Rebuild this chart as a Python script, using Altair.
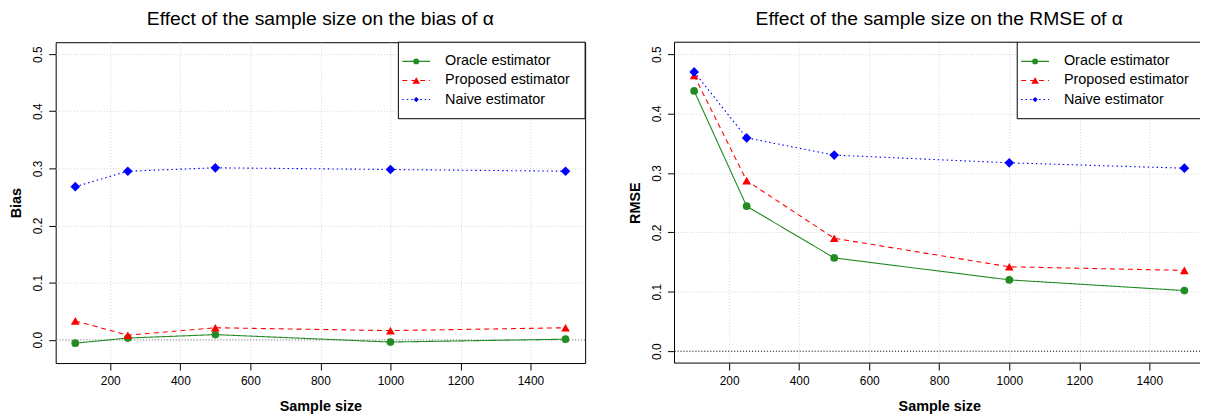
import altair as alt
import pandas as pd

# ---------------- data ----------------
sample_sizes = [100, 250, 500, 1000, 1500]
estimators = ["Oracle estimator", "Proposed estimator", "Naive estimator"]

bias_oracle = [-0.006, 0.003, 0.009, -0.004, 0.001]
bias_proposed = [0.033, 0.008, 0.021, 0.016, 0.021]
bias_naive = [0.268, 0.295, 0.301, 0.298, 0.295]

rmse_oracle = [0.438, 0.244, 0.157, 0.120, 0.102]
rmse_proposed = [0.464, 0.287, 0.190, 0.142, 0.136]
rmse_naive = [0.470, 0.359, 0.330, 0.317, 0.308]

x_ticks = [200, 400, 600, 800, 1000, 1200, 1400]
y_ticks = [0.0, 0.1, 0.2, 0.3, 0.4, 0.5]

# ---------------- style ----------------
FONT = "Liberation Sans"
colors = ["#228B22", "#FF0000", "#0000FF"]
dashes = [[1, 0], [5, 4], [1.5, 3]]
shapes = ["circle", "triangle-up", "diamond"]
sizes = [60, 95, 40]
legend_sizes = [36, 60, 28]

W, H = 533, 323
X_DOMAIN = [44, 1556]
PX_PER_UNIT = W / (X_DOMAIN[1] - X_DOMAIN[0])
SPACING = 90
PAD_L, PAD_T = 48, 32
SVG_W, SVG_H = 1200, 406
# right panel is cut by the picture's right edge, as in the reference
W2 = SVG_W + 8 - (8 + PAD_L + W + SPACING)
X_DOMAIN2 = [X_DOMAIN[0], X_DOMAIN[0] + W2 / PX_PER_UNIT]


def long_df(series):
    rows = []
    for name, vals in zip(estimators, series):
        for n, v in zip(sample_sizes, vals):
            rows.append({"n": n, "value": v, "estimator": name})
    return pd.DataFrame(rows)


def one(name="k"):
    return alt.Chart(pd.DataFrame({name: [0]}))


def panel(series, y_domain, title, y_title, zero_color, width, x_domain, cut_right):
    df = long_df(series)
    x_enc = alt.X(
        "n:Q",
        scale=alt.Scale(domain=x_domain, nice=False, zero=False),
        axis=alt.Axis(
            values=x_ticks, format="d", title="Sample size", grid=True,
            gridColor="#d3d3d3", gridDash=[1, 2], gridWidth=1, domain=False,
            tickSize=7, tickColor="black", tickWidth=1, labelPadding=6,
            labelFontSize=12, labelColor="black", labelFont=FONT,
            titleFont=FONT, titleFontSize=14.5, titleFontWeight="bold",
            titleColor="black", titleBaseline="alphabetic", titleY=48,
            titleX=W / 2, titleAlign="center",
        ),
    )
    y_enc = alt.Y(
        "value:Q",
        scale=alt.Scale(domain=y_domain, nice=False, zero=False),
        axis=alt.Axis(
            values=y_ticks, format=".1f", title=y_title, grid=True,
            gridColor="#d3d3d3", gridDash=[1, 2], gridWidth=1, domain=False,
            tickSize=7, tickColor="black", tickWidth=1, labelAngle=270,
            labelAlign="center", labelBaseline="alphabetic", labelPadding=7,
            labelFontSize=12, labelColor="black", labelFont=FONT,
            titleFont=FONT, titleFontSize=14.5, titleFontWeight="bold",
            titleColor="black", titleAngle=270, titleBaseline="alphabetic",
            titleAlign="center", titleX=-35, titleY=H / 2,
        ),
    )
    color = alt.Color("estimator:N", scale=alt.Scale(domain=estimators, range=colors), legend=None)

    zero = alt.Chart(pd.DataFrame({"value": [0.0]})).mark_rule(
        strokeDash=[1, 2], color=zero_color, strokeWidth=1
    ).encode(y=y_enc)

    lines = alt.Chart(df).mark_line(strokeWidth=1.1).encode(
        x=x_enc, y=y_enc, color=color,
        strokeDash=alt.StrokeDash("estimator:N", scale=alt.Scale(domain=estimators, range=dashes), legend=None),
    )
    points = alt.Chart(df).mark_point(filled=True, opacity=1).encode(
        x=x_enc, y=y_enc, color=color,
        shape=alt.Shape("estimator:N", scale=alt.Scale(domain=estimators, range=shapes), legend=None),
        size=alt.Size("estimator:N", scale=alt.Scale(domain=estimators, range=sizes), legend=None),
    )

    # legend box (top-right, inside the plot)
    lx0 = W - 188
    layers = [zero, lines, points]
    if cut_right:
        layers.append(one().mark_rect(fill="white", strokeWidth=0).encode(
            x=alt.value(lx0), x2=alt.value(width), y=alt.value(0), y2=alt.value(77)))
        rule = dict(color="black", strokeWidth=1)
        layers += [
            one().mark_rule(**rule).encode(x=alt.value(lx0), y=alt.value(0), y2=alt.value(77)),
            one().mark_rule(**rule).encode(x=alt.value(lx0), x2=alt.value(width), y=alt.value(77)),
            # plot frame: top, left, bottom (right side lies outside the picture)
            one().mark_rule(**rule).encode(x=alt.value(0), x2=alt.value(width), y=alt.value(0)),
            one().mark_rule(**rule).encode(x=alt.value(0), y=alt.value(0), y2=alt.value(H)),
            one().mark_rule(**rule).encode(x=alt.value(0), x2=alt.value(width), y=alt.value(H)),
        ]
    else:
        layers.append(one().mark_rect(fill="white", stroke="black", strokeWidth=1).encode(
            x=alt.value(lx0), x2=alt.value(width), y=alt.value(0), y2=alt.value(77)))
    for i, name in enumerate(estimators):
        ry = 19.3 + 19.2 * i
        d = pd.DataFrame({"name": [name]})
        layers.append(alt.Chart(d).mark_rule(
            color=colors[i], strokeDash=dashes[i], strokeWidth=1.1
        ).encode(x=alt.value(lx0 + 4), x2=alt.value(lx0 + 32), y=alt.value(ry)))
        layers.append(alt.Chart(d).mark_point(
            shape=shapes[i], filled=True, opacity=1, color=colors[i], size=legend_sizes[i]
        ).encode(x=alt.value(lx0 + 18), y=alt.value(ry)))
        layers.append(alt.Chart(d).mark_text(
            align="left", baseline="middle", fontSize=14.5, font=FONT, color="black"
        ).encode(x=alt.value(lx0 + 47), y=alt.value(ry), text="name:N"))

    props = dict(
        width=width, height=H,
        title=alt.Title(title, fontSize=19.4, fontWeight="normal", font=FONT,
                        color="black", anchor="middle", offset=12,
                        dx=(W - width) / 2),
    )
    if cut_right:
        props["view"] = alt.ViewBackground(strokeWidth=0, stroke="transparent")
    else:
        props["view"] = alt.ViewBackground(stroke="black", strokeWidth=1)
    return alt.layer(*layers).properties(**props)


left = panel([bias_oracle, bias_proposed, bias_naive], [-0.0408, 0.5208],
             "Effect of the sample size on the bias of α", "Bias", "#808080",
             W, X_DOMAIN, False)
right = panel([rmse_oracle, rmse_proposed, rmse_naive], [-0.02, 0.52],
              "Effect of the sample size on the RMSE of α", "RMSE", "black",
              W2, X_DOMAIN2, True)

chart = alt.hconcat(left, right, spacing=SPACING, bounds="flush").properties(
    autosize=alt.AutoSizeParams(type="none"),
    padding={"left": PAD_L, "top": PAD_T, "right": SVG_W - PAD_L, "bottom": SVG_H - PAD_T},
).configure(font=FONT)

chart.save("out.html", embed_options={"renderer": "svg", "actions": False})
